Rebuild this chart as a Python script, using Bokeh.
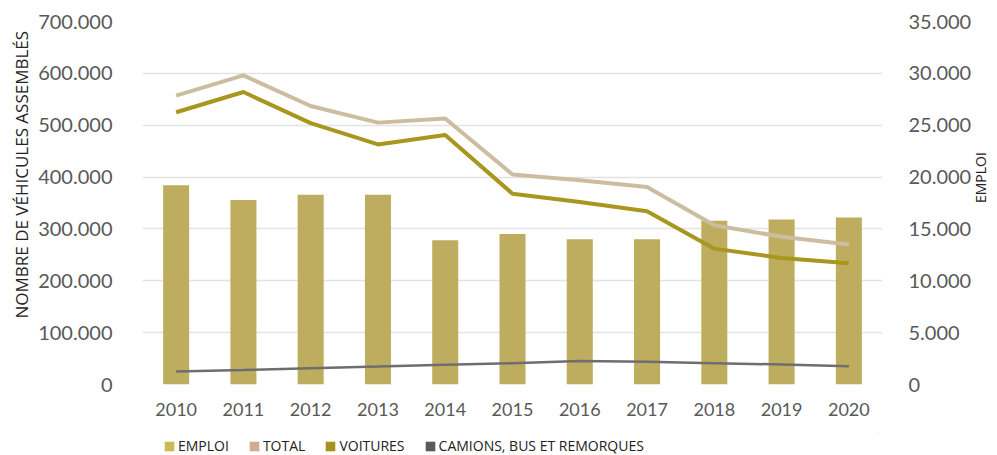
import math
from bokeh.plotting import figure
from bokeh.layouts import column
from bokeh.models import (Range1d, LinearAxis, FixedTicker, Legend, LegendItem,
                          Title, FactorRange)
from bokeh.embed import file_html
from bokeh.resources import INLINE

years = ["2010", "2011", "2012", "2013", "2014", "2015", "2016", "2017", "2018", "2019", "2020"]
emploi = [19200, 17800, 18300, 18300, 13900, 14500, 14000, 14000, 15800, 15900, 16100]
total = [557000, 596000, 537000, 505000, 513000, 405000, 394000, 381000, 307000, 285000, 270000]
voitures = [525000, 564000, 504000, 463000, 481000, 368000, 352000, 334000, 262000, 244000, 234000]
camions = [25000, 28000, 31500, 34500, 38000, 41000, 45500, 43700, 41100, 38600, 35300]

left_ticks = [0, 100000, 200000, 300000, 400000, 500000, 600000, 700000]
left_labels = ["0", "100.000", "200.000", "300.000", "400.000", "500.000", "600.000", "700.000"]
right_ticks = [0, 5000, 10000, 15000, 20000, 25000, 30000, 35000]
right_labels = ["0", "5.000", "10.000", "15.000", "20.000", "25.000", "30.000", "35.000"]

legend_names = ["EMPLOI", "TOTAL", "VOITURES", "CAMIONS, BUS ET REMORQUES"]
legend_colors = ["#CBBB52", "#CFAB94", "#A3921E", "#595959"]

TICK_FONT = "Lato"
TICK_COLOR = "#595959"

p = figure(frame_width=740, frame_height=363,
           x_range=FactorRange(*years),
           y_range=Range1d(0, 700000),
           output_backend="svg", toolbar_location=None,
           min_border_left=142, min_border_right=115,
           min_border_top=21, min_border_bottom=48)
p.outline_line_color = None
p.extra_y_ranges = {"emploi": Range1d(0, 35000)}

p.vbar(x=years, top=emploi, width=0.387, y_range_name="emploi",
       fill_color="#BFAD5F", line_color=None)
p.line(years, total, line_width=4, line_color="#CDBDA0")
p.line(years, voitures, line_width=4, line_color="#A8961E")
p.line(years, camions, line_width=2.5, line_color="#6E6E6E")

# grid
p.xgrid.grid_line_color = None
p.ygrid.ticker = FixedTicker(ticks=left_ticks)
p.ygrid.grid_line_color = "#E3E3E3"
p.ygrid.grid_line_width = 1.5

def style_axis(ax, standoff, size):
    ax.axis_line_color = None
    ax.major_tick_line_color = None
    ax.minor_tick_line_color = None
    ax.major_tick_out = 0
    ax.major_tick_in = 0
    ax.major_label_standoff = standoff
    ax.major_label_text_font = TICK_FONT
    ax.major_label_text_font_size = size
    ax.major_label_text_color = TICK_COLOR

# left axis
ly = p.yaxis[0]
ly.ticker = FixedTicker(ticks=left_ticks)
ly.major_label_overrides = dict(zip(left_ticks, left_labels))
style_axis(ly, 30, "20px")

# x axis
style_axis(p.xaxis[0], 18, "18px")

# right axis
ry = LinearAxis(y_range_name="emploi", ticker=FixedTicker(ticks=right_ticks))
ry.major_label_overrides = dict(zip(right_ticks, right_labels))
style_axis(ry, 26, "20px")
ry.axis_label = "EMPLOI"
ry.axis_label_orientation = math.pi / 2
ry.axis_label_standoff = 6
ry.axis_label_text_align = "center"
ry.axis_label_text_font = "Open Sans"
ry.axis_label_text_font_size = "14px"
ry.axis_label_text_font_style = "normal"
ry.axis_label_text_color = "#222222"
p.add_layout(ry, "right")

# left axis title
p.add_layout(Title(text="NOMBRE DE VÉHICULES ASSEMBLÉS", align="left", offset=66,
                   text_font="Open Sans", text_font_size="17px", text_font_style="normal",
                   text_color="#222222", standoff=5), "left")

# legend strip (separate small figure below the chart, frames aligned by column)
lg = figure(width=997, height=23, x_range=Range1d(0, 1), y_range=Range1d(0, 1),
            output_backend="svg", toolbar_location=None,
            x_axis_location=None, y_axis_location=None, min_border=0)
lg.outline_line_color = None
lg.grid.grid_line_color = None
items = []
for name, col in zip(legend_names, legend_colors):
    # swatch-only renderer: one bar placed outside the visible range
    r = lg.vbar(x=[5], top=[5], bottom=[4], width=0.5, fill_color=col, line_color=None)
    items.append(LegendItem(label=name, renderers=[r]))
legend = Legend(items=items, orientation="horizontal", location=(21, 0),
                glyph_width=12, glyph_height=12, label_height=16, label_standoff=3,
                spacing=19, padding=0, margin=0, border_line_color=None,
                background_fill_alpha=0, label_text_font="Open Sans",
                label_text_font_size="14px", label_text_color="#222222")
lg.add_layout(legend, "center")

layout = column(p, lg, spacing=0)
open("out.html", "w").write(file_html(layout, INLINE))
